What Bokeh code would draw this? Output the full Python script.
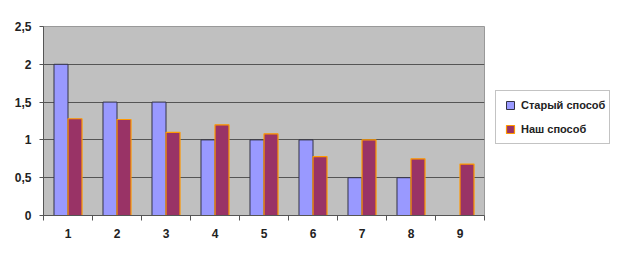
from bokeh.plotting import figure
from bokeh.layouts import row
from bokeh.models import ColumnDataSource, FixedTicker, Legend, LegendItem, Range1d
from bokeh.transform import dodge
from bokeh.embed import file_html
from bokeh.resources import INLINE

categories = [1, 2, 3, 4, 5, 6, 7, 8, 9]
old_method = [2.0, 1.5, 1.5, 1.0, 1.0, 1.0, 0.5, 0.5, 0.0]
our_method = [1.28, 1.27, 1.1, 1.2, 1.08, 0.78, 1.0, 0.75, 0.68]
y_ticks = [0, 0.5, 1, 1.5, 2, 2.5]
y_tick_labels = ["0", "0,5", "1", "1,5", "2", "2,5"]
series_names = ["Старый способ", "Наш способ"]

OLD_STYLE = dict(fill_color="#9999FF", line_color="#333344", line_width=1)
NEW_STYLE = dict(fill_color="#993366", line_color="#FF9900", line_width=1.2)

old_x = [c for c, v in zip(categories, old_method) if v > 0]
old_v = [v for v in old_method if v > 0]
src_old = ColumnDataSource(dict(x=old_x, top=old_v))
src_new = ColumnDataSource(dict(x=categories, top=our_method))

p = figure(width=485, height=260, output_backend="svg", toolbar_location=None,
           x_range=Range1d(0.5, 9.5), y_range=Range1d(0, 2.5))
p.min_border_left = 43
p.min_border_top = 26
p.min_border_bottom = 45
p.min_border_right = 1
p.background_fill_color = "#C0C0C0"
p.border_fill_color = "white"
p.outline_line_color = "#999999"
p.outline_line_width = 1

p.vbar(x=dodge("x", -0.143), top="top", width=0.286, source=src_old, **OLD_STYLE)
p.vbar(x=dodge("x", 0.143), top="top", width=0.286, source=src_new, **NEW_STYLE)

p.xgrid.grid_line_color = None
p.ygrid.grid_line_color = "#555555"
p.ygrid.grid_line_width = 1

p.xaxis.ticker = FixedTicker(ticks=categories, minor_ticks=[c - 0.5 for c in categories] + [9.5])
p.xaxis.major_tick_line_color = None
p.xaxis.major_tick_out = 5
p.xaxis.major_tick_in = 0
p.xaxis.minor_tick_out = 5
p.xaxis.minor_tick_in = 0
p.xaxis.minor_tick_line_color = "#555555"
p.xaxis.axis_line_color = "#555555"
p.xaxis.major_label_standoff = 8
p.xaxis.major_label_text_font = "Liberation Sans"
p.xaxis.major_label_text_font_style = "bold"
p.xaxis.major_label_text_font_size = "12px"
p.xaxis.major_label_text_color = "#222222"

p.yaxis.ticker = FixedTicker(ticks=y_ticks, minor_ticks=[])
p.yaxis.major_label_overrides = {t: l for t, l in zip(y_ticks, y_tick_labels)}
p.yaxis.major_tick_out = 4
p.yaxis.major_tick_in = 0
p.yaxis.major_tick_line_color = "#555555"
p.yaxis.axis_line_color = "#555555"
p.yaxis.major_label_standoff = 8
p.yaxis.major_label_text_font = "Liberation Sans"
p.yaxis.major_label_text_font_style = "bold"
p.yaxis.major_label_text_font_size = "12px"
p.yaxis.major_label_text_color = "#222222"

# Legend lives in a small companion figure to the right of the plot area
lg = figure(width=131, height=260, output_backend="svg", toolbar_location=None,
            x_axis_type=None, y_axis_type=None, x_range=Range1d(0, 1), y_range=Range1d(0, 1),
            min_border_left=0, min_border_right=0, min_border_top=0, min_border_bottom=0)
lg.outline_line_color = None
lg.xgrid.grid_line_color = None
lg.ygrid.grid_line_color = None
offscreen = ColumnDataSource(dict(x=[-10], y=[-10]))
l_old = lg.scatter(x="x", y="y", marker="square", size=8, source=offscreen,
                   fill_color="#9999FF", line_color="#333344", line_width=1)
l_new = lg.scatter(x="x", y="y", marker="square", size=8, source=offscreen,
                   fill_color="#993366", line_color="#FF9900", line_width=1.2)

legend = Legend(items=[LegendItem(label=series_names[0], renderers=[l_old]),
                       LegendItem(label=series_names[1], renderers=[l_new])],
                location=(10, 71), orientation="vertical")
legend.label_text_font = "Liberation Sans"
legend.label_text_font_style = "bold"
legend.label_text_font_size = "11px"
legend.label_text_color = "#222222"
legend.glyph_width = 20
legend.glyph_height = 20
legend.label_height = 20
legend.label_standoff = 1
legend.spacing = 4
legend.padding = 4
legend.margin = 0
legend.border_line_color = "#888888"
legend.border_line_width = 1
legend.background_fill_color = "white"
lg.add_layout(legend)

layout = row(p, lg)
open("out.html", "w").write(file_html(layout, INLINE))
